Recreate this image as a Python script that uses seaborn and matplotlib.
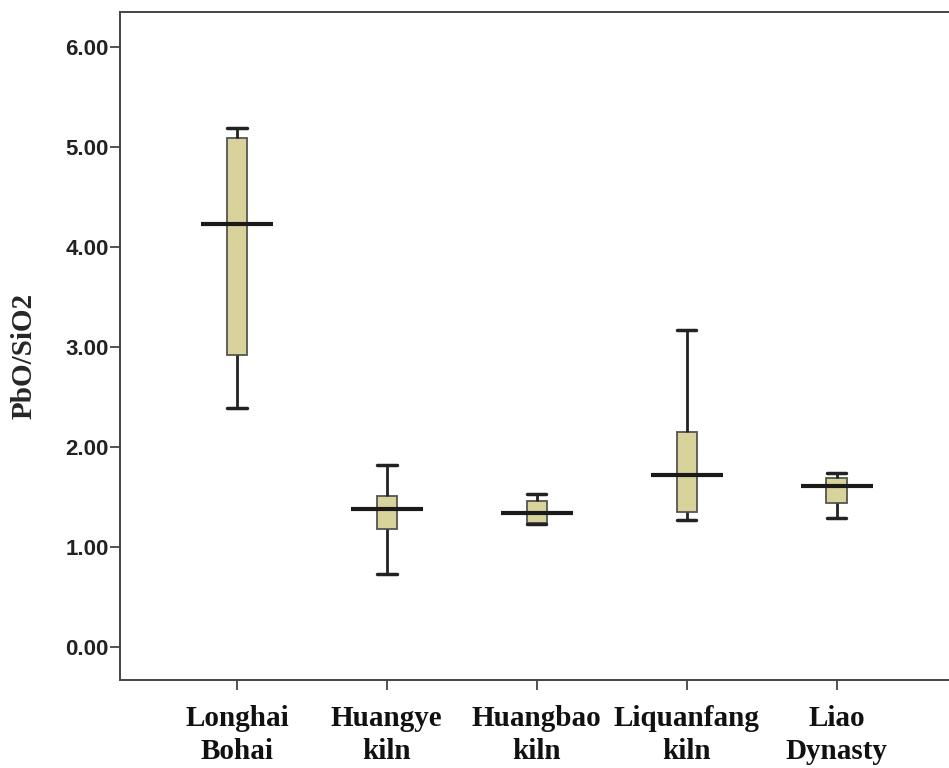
import numpy as np
import pandas as pd
import matplotlib.pyplot as plt
import seaborn as sns

# five-number summaries (min, Q1, median, Q3, max)
groups = ["Longhai\nBohai", "Huangye\nkiln", "Huangbao\nkiln", "Liquanfang\nkiln", "Liao\nDynasty"]
longhai = [2.39, 2.92, 4.23, 5.09, 5.19]
huangye = [0.73, 1.18, 1.38, 1.51, 1.82]
huangbao = [1.23, 1.24, 1.34, 1.46, 1.53]
liquanfang = [1.27, 1.35, 1.72, 2.15, 3.17]
liao = [1.29, 1.44, 1.61, 1.69, 1.74]
yticks = [0, 1, 2, 3, 4, 5, 6]

df = pd.DataFrame({
    "group": np.repeat(groups, 5),
    "value": longhai + huangye + huangbao + liquanfang + liao,
})

sns.set_style("white")

fig = plt.figure(figsize=(9.49, 7.68), dpi=100)
ax = fig.add_axes([0.1264, 0.1146, 0.8736, 0.8698])

sns.boxplot(data=df, x="group", y="value", order=groups, ax=ax,
            whis=(0, 100), width=0.135, color="#d8d39a", saturation=1,
            linewidth=1.3, linecolor="#555555", fliersize=0,
            capwidths=0.13,
            medianprops=dict(color="#d8d39a", linewidth=0),
            whiskerprops=dict(color="#222222", linewidth=2),
            capprops=dict(color="#222222", linewidth=2.5))

# wide median bars like the SPSS output
sns.pointplot(data=df, x="group", y="value", order=groups, ax=ax,
              estimator="median", errorbar=None, linestyle="none",
              marker="_", markersize=52, markeredgewidth=3,
              color="#1a1a1a")

ax.set_xlim(-0.78, 4.75)
ax.set_ylim(-0.33, 6.35)
ax.set_yticks(yticks)
ax.set_yticklabels([f"{v:.2f}" for v in yticks], fontfamily="Liberation Sans",
                   fontweight="bold", fontsize=16, color="#222222")
ax.set_xticklabels(groups, fontfamily="Liberation Serif", fontweight="bold",
                   fontsize=21, color="#111111", linespacing=1.3)
ax.set_xlabel("")
ax.set_ylabel("PbO/SiO2", fontfamily="Liberation Serif", fontweight="bold",
              fontsize=21)
ax.yaxis.set_label_coords(-0.099, 0.485)

ax.tick_params(axis="both", which="major", direction="out", length=7,
               width=1.3, color="#444444", bottom=True, left=True)
ax.tick_params(axis="y", pad=1)
ax.tick_params(axis="x", pad=11)
for side in ["left", "bottom", "top"]:
    ax.spines[side].set_color("#444444")
    ax.spines[side].set_linewidth(1.4)
ax.spines["right"].set_visible(False)

fig.savefig("out.png", dpi=100)
